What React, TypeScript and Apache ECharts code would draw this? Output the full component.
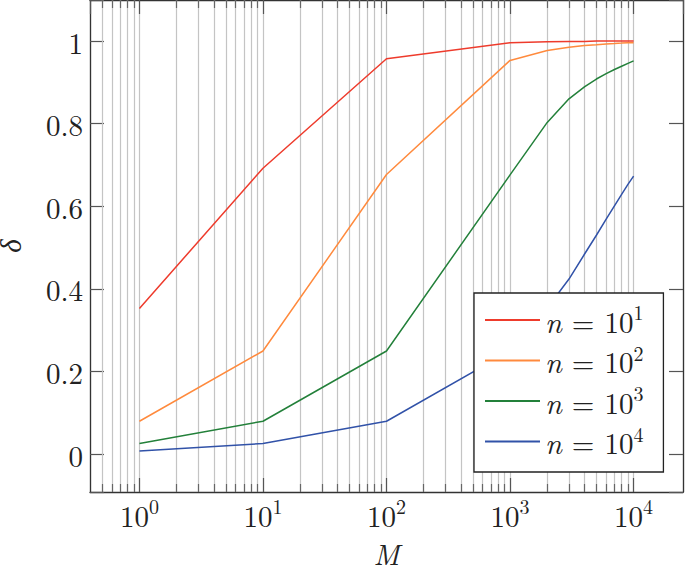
import React, { useEffect, useRef } from "react";
import * as echarts from "echarts";

// ---- data ----
const M_VALUES = [1, 10, 100, 1000, 2000, 3000, 4000, 5000, 6000, 7000, 8000, 9000, 10000];
const DELTA_N1 = [0.353, 0.692, 0.957, 0.996, 0.998, 0.999, 0.999, 1.0, 1.0, 1.0, 1.0, 1.0, 1.0];
const DELTA_N2 = [0.08, 0.25, 0.677, 0.953, 0.977, 0.985, 0.989, 0.991, 0.993, 0.994, 0.995, 0.996, 0.996];
const DELTA_N3 = [0.026, 0.08, 0.25, 0.676, 0.803, 0.86, 0.889, 0.908, 0.921, 0.931, 0.939, 0.946, 0.952];
const DELTA_N4 = [0.008, 0.026, 0.08, 0.25, 0.354, 0.424, 0.484, 0.53, 0.569, 0.601, 0.629, 0.653, 0.673];
const SERIES_EXP = [1, 2, 3, 4];
const SERIES_NAMES = ["n = 10^1", "n = 10^2", "n = 10^3", "n = 10^4"];
const SERIES_VALUES = [DELTA_N1, DELTA_N2, DELTA_N3, DELTA_N4];
const COLORS = ["#ee3b2c", "#ff8a3d", "#23803a", "#3152a8"];
const MINOR_X = [
  0.5, 0.6, 0.7, 0.8, 0.9,
  2, 3, 4, 5, 6, 7, 8, 9,
  20, 30, 40, 50, 60, 70, 80, 90,
  200, 300, 400, 500, 600, 700, 800, 900,
  2000, 3000, 4000, 5000, 6000, 7000, 8000, 9000,
];
const X_MIN = Math.pow(10, -0.4);
const X_MAX = Math.pow(10, 4.4);
const Y_MIN = -0.0912;
const Y_MAX = 1.0992;

const FONT = "Latin Modern Roman";
const TEXT_COLOR = "#222";

export default function App() {
  const ref = useRef<HTMLDivElement>(null);
  useEffect(() => {
    document.body.style.margin = "0";
    const chart = echarts.init(ref.current!, null, { renderer: "svg" });
    const plotHeight = 492;
    const minorLen = (8 / plotHeight) * (Y_MAX - Y_MIN);
    const gridStyle = { color: "#c4c4c4", width: 1.2, type: "solid" as const };
    const tickStyle = { color: "#666", width: 1.2, type: "solid" as const };

    const markData: any[] = [];
    MINOR_X.forEach((v) => markData.push({ xAxis: v, lineStyle: gridStyle }));
    MINOR_X.forEach((v) => {
      markData.push([
        { coord: [v, Y_MIN], lineStyle: tickStyle },
        { coord: [v, Y_MIN + minorLen], lineStyle: tickStyle },
      ]);
      markData.push([
        { coord: [v, Y_MAX], lineStyle: tickStyle },
        { coord: [v, Y_MAX - minorLen], lineStyle: tickStyle },
      ]);
    });

    const supRich = {
      s: { fontSize: 20, fontFamily: FONT, color: TEXT_COLOR, padding: [0, 0, 17, 0], lineHeight: 30 },
    };

    const xLabelFormatter = (v: number) => {
      const k = Math.log10(v);
      if (Math.abs(k - Math.round(k)) > 1e-6) return "";
      return `10{s|${Math.round(k)}}`;
    };

    const series: any[] = SERIES_NAMES.map((name, i) => ({
      name,
      type: "line",
      data: M_VALUES.map((m, j) => [m, SERIES_VALUES[i][j]]),
      showSymbol: false,
      symbol: "none",
      lineStyle: { color: COLORS[i], width: 1.5 },
      itemStyle: { color: COLORS[i] },
      xAxisIndex: 0,
      yAxisIndex: 0,
      z: 3,
      ...(i === 0
        ? {
            markLine: {
              silent: true,
              z: 1,
              symbol: ["none", "none"],
              label: { show: false },
              animation: false,
              data: markData,
            },
          }
        : {}),
    }));

    const commonX = {
      type: "log" as const,
      logBase: 10,
      min: X_MIN,
      max: X_MAX,
      axisLine: { show: true, onZero: false, lineStyle: { color: "#333", width: 1.3 } },
      axisTick: { show: true, inside: true, length: 14, lineStyle: { color: "#555", width: 1.2 } },
      minorTick: { show: false },
    };
    const commonY = {
      type: "value" as const,
      min: Y_MIN,
      max: Y_MAX,
      splitNumber: 5,
      axisLine: { show: true, onZero: false, lineStyle: { color: "#333", width: 1.3 } },
      axisTick: { show: true, inside: true, length: 14, lineStyle: { color: "#555", width: 1.2 } },
      splitLine: { show: false },
    };

    chart.setOption({
      animation: false,
      grid: { left: 90, right: 2, top: 0, bottom: 76, containLabel: false, outerBoundsMode: "none" },
      xAxis: [
        {
          ...commonX,
          position: "bottom",
          name: "M",
          nameLocation: "middle",
          nameGap: 46,
          nameTextStyle: { fontFamily: FONT, fontStyle: "italic", fontSize: 29, color: TEXT_COLOR },
          splitLine: { show: true, lineStyle: gridStyle },
          axisLabel: {
            show: true,
            margin: 7,
            formatter: xLabelFormatter,
            fontFamily: FONT,
            fontSize: 29,
            lineHeight: 30,
            color: TEXT_COLOR,
            rich: supRich,
            showMinLabel: false,
            showMaxLabel: false,
          },
        },
        {
          ...commonX,
          position: "top",
          splitLine: { show: false },
          axisLabel: { show: false },
        },
      ],
      yAxis: [
        {
          ...commonY,
          position: "left",
          name: "δ",
          nameLocation: "middle",
          nameGap: 67,
          nameTextStyle: { fontFamily: FONT, fontStyle: "italic", fontSize: 29, color: TEXT_COLOR },
          axisLabel: {
            show: true,
            margin: 7,
            fontFamily: FONT,
            fontSize: 29,
            color: TEXT_COLOR,
            formatter: (v: number) => {
              const r = Math.round(v * 5) / 5;
              if (Math.abs(v - r) > 1e-6) return "";
              return String(Math.round(r * 10) / 10);
            },
          },
        },
        {
          ...commonY,
          position: "right",
          axisLabel: { show: false },
        },
      ],
      legend: {
        data: SERIES_NAMES,
        orient: "vertical",
        left: 474,
        top: 293,
        itemWidth: 55,
        itemHeight: 2,
        icon: "rect",
        itemGap: 3.5,
        padding: [8.5, 20, 12, 11],
        borderColor: "#222",
        borderWidth: 1.3,
        borderRadius: 0,
        backgroundColor: "#fff",
        selectedMode: false,
        formatter: (name: string) => {
          const i = SERIES_NAMES.indexOf(name);
          return `{i|n}{e|=}10{s|${SERIES_EXP[i]}}`;
        },
        textStyle: {
          fontFamily: FONT,
          fontSize: 29,
          lineHeight: 30,
          color: TEXT_COLOR,
          rich: {
            i: { fontFamily: FONT, fontStyle: "italic", fontSize: 30, lineHeight: 30, color: TEXT_COLOR },
            e: { fontFamily: FONT, fontSize: 29, lineHeight: 30, color: TEXT_COLOR, padding: [0, 10, 0, 10] },
            s: { fontSize: 20, fontFamily: FONT, color: TEXT_COLOR, padding: [0, 0, 17, 0], lineHeight: 30 },
          },
        },
      },
      series,
    });
    return () => chart.dispose();
  }, []);
  return (
    <div
      ref={ref}
      style={{ position: "absolute", left: 0, top: 0, width: 685, height: 568, background: "#fff" }}
    />
  );
}
